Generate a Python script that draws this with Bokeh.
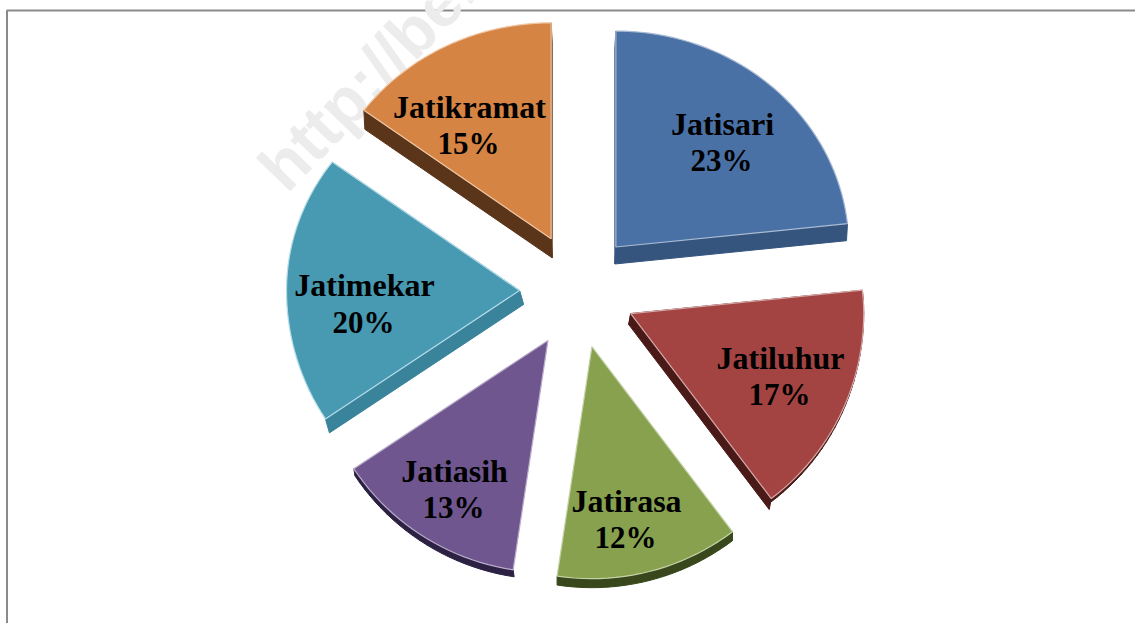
import math
from bokeh.plotting import figure
from bokeh.models import Range1d
from bokeh.core.properties import value
from bokeh.embed import file_html
from bokeh.resources import INLINE

# data
names = ["Jatisari", "Jatiluhur", "Jatirasa", "Jatiasih", "Jatimekar", "Jatikramat"]
shares = [23, 17, 12, 13, 20, 15]

# styling
top_colors = ["#4a71a5", "#a34442", "#87a14f", "#6f568f", "#489ab3", "#d68443"]
edge_colors = ["#a9bbd4", "#d6a9a8", "#c4d2a6", "#b9abc9", "#b5dde8", "#f0c8a6"]
side_colors = ["#35557f", "#4a1a18", "#39481c", "#2c2143", "#3a849b", "#5a3519"]
radial_depths = [(-1, 17), (-2, 11), (0, 0), (0, 0), (4, 14), (1, 19)]
arc_depths = [(0, 0), (-1, 4), (0, 9), (1, 7), (0, 0), (0, 0)]
label_x = [722, 780, 626, 454, 364, 469]
name_y = [123, 357, 500, 470, 284, 106]
pct_y = [160, 394, 537, 507, 322, 143]

W, H = 1135, 623
CX, CY = 577, 290
RX, RY_UP, RY_DOWN = 233, 216, 232
EXPLODE = 58
# the 3-D perspective of the original moves the slice boundaries slightly
WARP = [0, 1.0, -1.1, 1.4, 2.4, 0.5, 0]

p = figure(width=W, height=H, output_backend="svg", toolbar_location=None,
           x_range=Range1d(0, W), y_range=Range1d(H, 0), min_border=0)
p.axis.visible = False
p.grid.visible = False
p.outline_line_color = None
p.background_fill_color = "white"

# chart frame, open to the right and bottom of the crop
p.line([6.5, 6.5, W], [H, 10, 10], line_color="#8a8a8a", line_width=2)

# faint watermark behind the pie
p.text([270], [178], text=["http://ber"], angle=[math.radians(46)],
       text_font=value("Liberation Sans"), text_font_style="bold",
       text_font_size="66px", text_color="#ececec", text_baseline="alphabetic")


def arc(start, end, ax, ay):
    n = max(8, int((end - start) / 2))
    xs, ys = [], []
    for i in range(n + 1):
        a = math.radians(start + (end - start) * i / n)
        c = math.cos(a)
        xs.append(ax + RX * math.sin(a))
        ys.append(ay - (RY_UP if c > 0 else RY_DOWN) * c)
    return xs, ys


def band(xs, ys, d):
    qx, qy = [], []
    for k in range(len(xs) - 1):
        qx.append([xs[k], xs[k + 1], xs[k + 1] + d[0], xs[k] + d[0]])
        qy.append([ys[k], ys[k + 1], ys[k + 1] + d[1], ys[k] + d[1]])
    return qx, qy


total = sum(shares)
angle = 0.0
for i, share in enumerate(shares):
    sweep = 360.0 * share / total
    mid = math.radians(angle + sweep / 2)
    ax = CX + EXPLODE * math.sin(mid)
    ay = CY - EXPLODE * math.cos(mid)
    ox, oy = arc(angle + WARP[i], angle + sweep + WARP[i + 1], ax, ay)

    sx, sy = [], []
    if radial_depths[i] != (0, 0):
        a, b = band([ox[-1], ax, ox[0]], [oy[-1], ay, oy[0]], radial_depths[i])
        sx += a
        sy += b
    if arc_depths[i] != (0, 0):
        a, b = band(ox, oy, arc_depths[i])
        sx += a
        sy += b
    if sx:
        p.patches(sx, sy, fill_color=side_colors[i], line_color=side_colors[i], line_width=1)
    p.patch([ax] + ox, [ay] + oy, fill_color=top_colors[i], line_color=edge_colors[i], line_width=1.2)
    angle += sweep

font = value("Liberation Serif")
p.text(label_x, name_y, text=names, text_font=font, text_font_style="bold",
       text_font_size="32px", text_color="black", text_align="center", text_baseline="middle")
p.text([x - 1 for x in label_x], pct_y, text=[f"{s}%" for s in shares], text_font=font,
       text_font_style="bold", text_font_size="31px", text_color="black",
       text_align="center", text_baseline="middle")

open("out.html", "w").write(file_html(p, INLINE))
